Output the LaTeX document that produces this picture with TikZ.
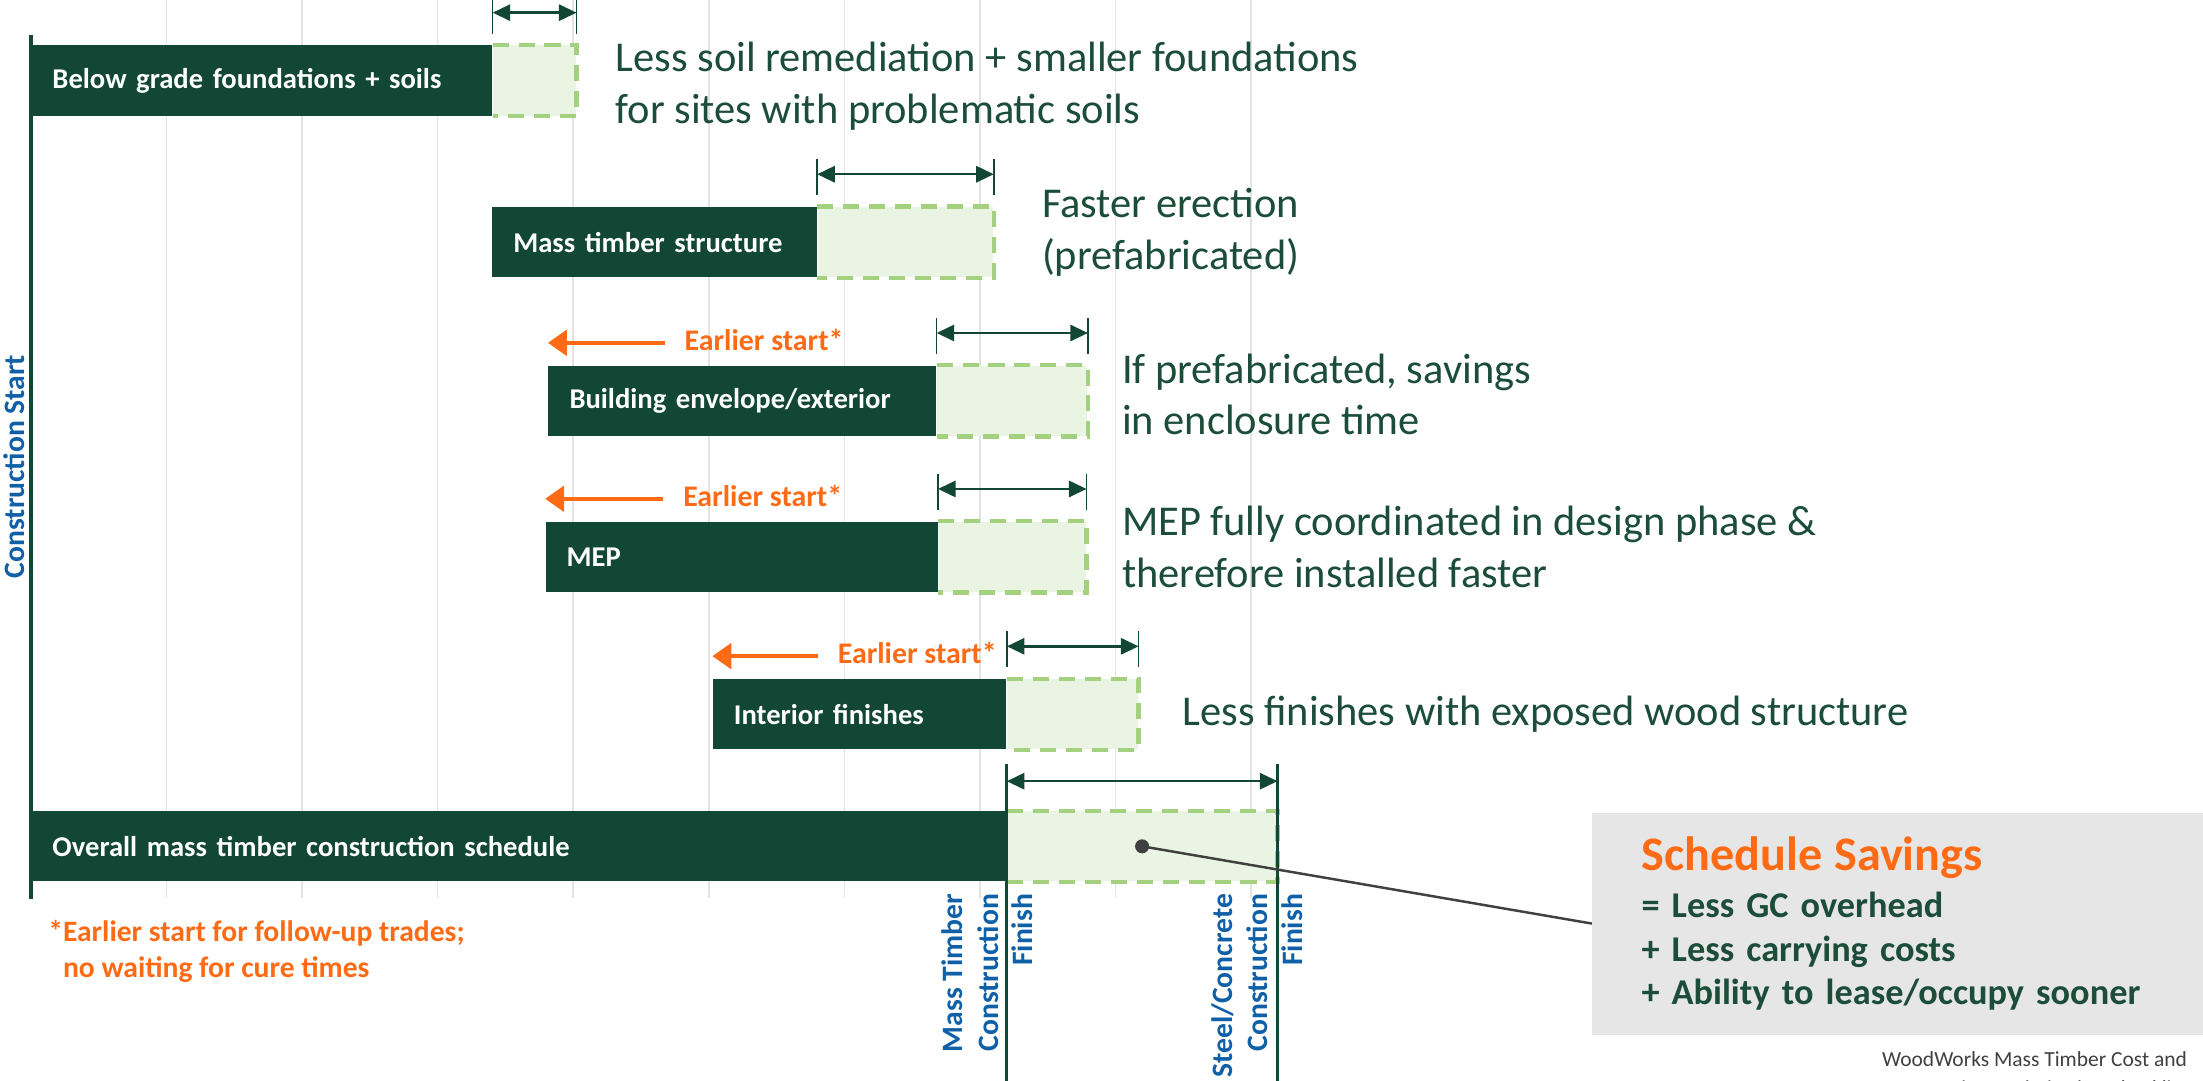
\documentclass[tikz,border=0pt]{standalone}
\usepackage{fontspec}
\setmainfont{Carlito}
\usepackage{tikz}
\usetikzlibrary{arrows.meta,positioning,calc}
\definecolor{wwgreen}{HTML}{114734}
\definecolor{wwtext}{HTML}{1B4D3A}
\definecolor{savefill}{HTML}{E9F4E2}
\definecolor{savedash}{HTML}{A3D17F}
\definecolor{wworange}{HTML}{FF6A14}
\definecolor{wwblue}{HTML}{1060A8}
\definecolor{boxgrey}{HTML}{E6E6E6}
\definecolor{gridgrey}{HTML}{E3E3E3}
\definecolor{dotgrey}{HTML}{404040}

\begin{document}
\begin{tikzpicture}[x=0.02cm,y=-0.02cm,
  gridline/.style={draw=gridgrey,line width=0.6pt},
  axis/.style={draw=wwgreen,line width=1.5pt},
  bar/.style={fill=wwgreen,text=white,anchor=north west,minimum height=1cm,inner xsep=0.3cm,inner ysep=0pt,align=left,font=\bfseries\fontsize{11.6}{13.5}\selectfont},
  gain/.style={fill=savefill,minimum width=#1,minimum height=1cm,inner sep=0pt},
  gainedge/.style={draw=savedash,line width=1.7pt,dash pattern=on 6.5pt off 4pt},
  dimtick/.style={draw=wwgreen,line width=0.6pt},
  dimarrow/.style={draw=wwgreen,line width=1pt,<->,>={Triangle[length=0.25cm,width=0.23cm]}},
  desc/.style={text=wwtext,align=left,inner sep=0pt,font=\fontsize{17.2}{20.8}\selectfont},
  early/.style={text=wworange,anchor=west,inner sep=0pt,font=\bfseries\fontsize{12.1}{14}\selectfont},
  earlyarrow/.style={draw=wworange,line width=1.8pt,-{Triangle[length=0.27cm,width=0.36cm]}},
  finline/.style={draw=wwgreen,line width=1.4pt},
  milestone/.style={text=wwblue,rotate=90,inner sep=0pt,font=\bfseries\fontsize{12}{14.4}\selectfont},
  sumbox/.style={fill=boxgrey,anchor=north west,minimum width=8.7cm,minimum height=3.16cm,text width=7.3cm,inner xsep=0.7cm,inner ysep=0pt,align=left,text=wwtext,font=\bfseries\fontsize{14.7}{17.6}\selectfont},
  callout/.style={draw=dotgrey,line width=1pt},
  note/.style={text=wworange,anchor=north west,inner sep=0pt,align=left,font=\bfseries\fontsize{12}{14.2}\selectfont},
  source/.style={text=dotgrey,anchor=north east,inner sep=0pt,align=right,font=\fontsize{8.7}{12}\selectfont}
  ]
  \useasboundingbox (0,0) rectangle (1568,769);
  \foreach \k in {1,...,9}
    \draw[gridline] ({22+96.5*\k},0) -- ({22+96.5*\k},639);
  \draw[axis] (22,25) -- (22,640);
  \node[milestone,anchor=south] (cstart) at (18,332) {Construction Start};

  \node[bar,text width=5.96cm] (fnd) at (22,32) {Below grade foundations + soils};
  \node[gain=1.18cm,right=0pt of fnd] (fndS) {};
  \node[desc,right=0.55cm of fndS,yshift=-0.08cm] (fndD) {Less soil remediation + smaller foundations\\for sites with problematic soils};

  \node[bar,text width=4.02cm] (mt) at (350,147) {Mass timber structure};
  \node[gain=2.5cm,right=0pt of mt] (mtS) {};
  \node[desc,right=0.68cm of mtS,yshift=0.14cm] (mtD) {Faster erection\\(prefabricated)};

  \node[bar,text width=4.92cm] (env) at (390,260) {Building envelope/exterior};
  \node[gain=2.14cm,right=0pt of env] (envS) {};
  \node[desc,right=0.48cm of envS,yshift=0.09cm] (envD) {If prefabricated, savings\\in enclosure time};

  \node[bar,text width=4.98cm] (mep) at (388,371) {MEP};
  \node[gain=2.1cm,right=0pt of mep] (mepS) {};
  \node[desc,right=0.5cm of mepS,yshift=0.14cm] (mepD) {MEP fully coordinated in design phase \&\\therefore installed faster};

  \node[bar,text width=3.58cm] (int) at (507,483) {Interior finishes};
  \node[gain=1.86cm,right=0pt of int] (intS) {};
  \node[desc,right=0.62cm of intS] (intD) {Less finishes with exposed wood structure};

  \node[bar,text width=13.28cm] (all) at (22,577) {Overall mass timber construction schedule};
  \node[gain=3.84cm,right=0pt of all] (allS) {};

  \foreach \s in {fndS,mtS,envS,mepS,intS,allS}
    \draw[gainedge] (\s.north west) -- (\s.north east) -- (\s.south east) -- (\s.south west);

  \foreach \s in {fndS,mtS,envS,mepS,intS} {
    \draw[dimtick] ([yshift=0.16cm]\s.north west) -- ([yshift=0.68cm]\s.north west);
    \draw[dimtick] ([yshift=0.16cm]\s.north east) -- ([yshift=0.68cm]\s.north east);
    \draw[dimarrow] ([yshift=0.46cm]\s.north west) -- ([yshift=0.46cm]\s.north east);
  }

  \foreach \b/\d in {env/1.94,mep/1.96,int/1.78} {
    \node[early] (\b E) at ([xshift=\d cm,yshift=0.36cm]\b.north west) {Earlier start*};
    \draw[earlyarrow] ([xshift=-0.28cm,yshift=-0.04cm]\b E.west) -- ([yshift=-0.04cm]\b E.west -| \b.west);
  }

  \coordinate (mtTop) at ([yshift=0.66cm]allS.north west);
  \coordinate (mtBot) at (allS.south west |- 0,775);
  \coordinate (scTop) at ([yshift=0.66cm]allS.north east);
  \coordinate (scBot) at (allS.south east |- 0,775);
  \draw[finline] (mtTop) -- (mtBot);
  \draw[finline] (scTop) -- (scBot);
  \draw[dimarrow] ([yshift=0.42cm]allS.north west) -- ([yshift=0.42cm]allS.north east);

  \node[milestone,anchor=south east,align=right] (mtLbl) at (711,636) {Mass Timber\\Construction};
  \node[milestone,anchor=north east] (mtFin) at (720,636) {Finish};
  \node[milestone,anchor=south east,align=right] (scLbl) at (903,636) {Steel/Concrete\\Construction};
  \node[milestone,anchor=north east] (scFin) at (912,636) {Finish};

  \node[sumbox] (sum) at (1133,578) {{\color{wworange}\fontsize{19.5}{23}\selectfont Schedule Savings}\\[1.7pt]= Less GC overhead\\+ Less carrying costs\\+ Ability to lease/occupy sooner};
  \fill[dotgrey] (allS.center) circle (0.1cm);
  \draw[callout] (allS.center) -- (sum.west);

  \node[note] (fn) at (34,655) {*Earlier start for follow-up trades;\\\hspace*{0.5em}no waiting for cure times};
  \node[source] (src) at (1557,748) {WoodWorks Mass Timber Cost and\\Design Optimization Checklist};
\end{tikzpicture}
\end{document}
